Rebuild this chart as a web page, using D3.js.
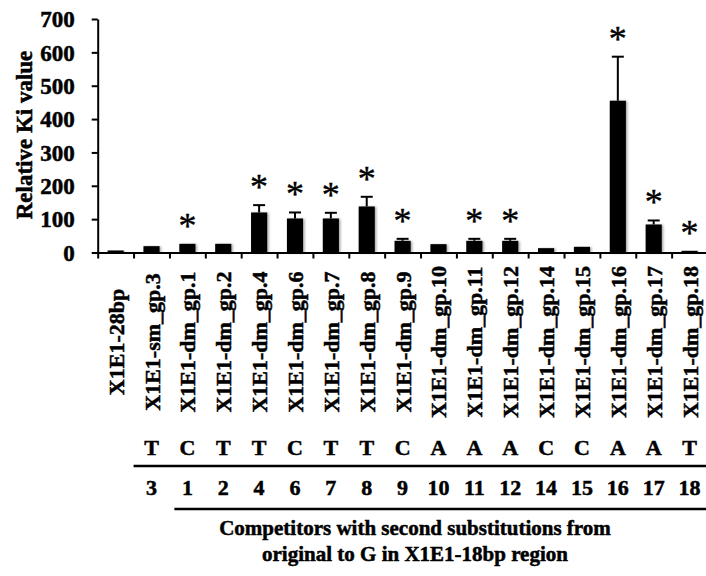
<!DOCTYPE html>
<html>
<head>
<meta charset="utf-8">
<script src="https://cdn.jsdelivr.net/npm/d3@7"></script>
<style>
  html, body { margin: 0; padding: 0; background: #fff; }
  svg { display: block; }
  text { font-family: "Liberation Serif", "Times New Roman", serif; font-weight: bold; fill: #000; stroke: #000; stroke-width: 0.5px; }
</style>
</head>
<body>
<svg id="chart" width="706" height="576"></svg>
<script>
// Competitor names (x-axis categories)
const categories = [
  "X1E1-28bp", "X1E1-sm_gp.3", "X1E1-dm_gp.1", "X1E1-dm_gp.2", "X1E1-dm_gp.4",
  "X1E1-dm_gp.6", "X1E1-dm_gp.7", "X1E1-dm_gp.8", "X1E1-dm_gp.9", "X1E1-dm_gp.10",
  "X1E1-dm_gp.11", "X1E1-dm_gp.12", "X1E1-dm_gp.14", "X1E1-dm_gp.15", "X1E1-dm_gp.16",
  "X1E1-dm_gp.17", "X1E1-dm_gp.18"
];
// Original base at the substituted position, and its position number
const originalBases = ["", "T", "C", "T", "T", "C", "T", "T", "C", "A", "A", "A", "C", "C", "A", "A", "T"];
const positions = ["", "3", "1", "2", "4", "6", "7", "8", "9", "10", "11", "12", "14", "15", "16", "17", "18"];
// Relative Ki values and their error (SD)
const kiValues = [6, 19, 26, 26, 120, 102, 102, 138, 35, 25, 35, 35, 13, 17, 455, 84, 5];
const kiErrors = [0, 0, 0, 0, 22, 18, 17, 29, 6, 0, 6, 6, 0, 0, 132, 12, 0];
// Significance marks
const significant = [false, false, true, false, true, true, true, true, true, false, true, true, false, false, true, true, true];
// Y-axis ticks
const yTicks = [0, 100, 200, 300, 400, 500, 600, 700];

const svg = d3.select("#chart");
const n = categories.length;

const plotLeft = 97.7, plotRight = 707.5, plotTop = 19, plotBottom = 252.5;

const x = d3.scaleBand()
  .domain(categories)
  .range([plotLeft, plotRight])
  .paddingInner(0.55)
  .paddingOuter(0.275);
const step = x.step();
const cx = d => x(d) + x.bandwidth() / 2;

const y = d3.scaleLinear().domain([0, 700]).range([plotBottom, plotTop]);

// Soft shadow used by the bars
const defs = svg.append("defs");
const f = defs.append("filter").attr("id", "shadow")
  .attr("x", "-30%").attr("y", "-10%").attr("width", "160%").attr("height", "130%");
f.append("feDropShadow").attr("dx", 1.5).attr("dy", 0.5)
  .attr("stdDeviation", 1.2).attr("flood-color", "#000").attr("flood-opacity", 0.35);

const data = categories.map((c, i) => ({
  name: c, value: kiValues[i], err: kiErrors[i], sig: significant[i],
  base: originalBases[i], pos: positions[i]
}));

// Bars
svg.append("g").selectAll("rect").data(data).join("rect")
  .attr("x", d => x(d.name))
  .attr("width", x.bandwidth())
  .attr("y", d => y(d.value))
  .attr("height", d => y(0) - y(d.value))
  .attr("fill", "#000")
  .attr("filter", "url(#shadow)");

// Error bars (upper only)
const eb = svg.append("g").attr("stroke", "#000").attr("stroke-width", 2);
data.filter(d => d.err > 0).forEach(d => {
  eb.append("line").attr("x1", cx(d.name)).attr("x2", cx(d.name))
    .attr("y1", y(d.value)).attr("y2", y(d.value + d.err));
  eb.append("line").attr("x1", cx(d.name) - 6).attr("x2", cx(d.name) + 6)
    .attr("y1", y(d.value + d.err)).attr("y2", y(d.value + d.err));
});

// Asterisks above significant bars
const starSize = 36;
svg.append("g").selectAll("text").data(data.filter(d => d.sig)).join("text")
  .attr("x", d => cx(d.name))
  .attr("y", d => y(d.value + d.err) - 24 + starSize * 0.5)
  .attr("text-anchor", "middle")
  .style("font-weight", "normal")
  .style("stroke-width", "0.4px")
  .style("font-size", starSize + "px")
  .text("*");

// Y axis
const yAxis = svg.append("g")
  .attr("transform", `translate(${plotLeft},0)`)
  .call(d3.axisLeft(y).tickValues(yTicks).tickSize(6).tickSizeOuter(0).tickPadding(17));
yAxis.select(".domain").attr("stroke-width", 2);
yAxis.selectAll(".tick line").attr("stroke-width", 2);
yAxis.selectAll(".tick text")
  .style("font-family", "'Liberation Serif', serif")
  .style("font-weight", "bold")
  .style("font-size", "23px")
  .attr("dy", "0.34em");

// X axis: ticks at category boundaries
const xEdges = d3.scaleLinear().domain([0, n]).range([plotLeft, plotLeft + n * step]);
const xAxis = svg.append("g")
  .attr("transform", `translate(0,${plotBottom})`)
  .call(d3.axisBottom(xEdges).tickValues(d3.range(0, n + 1)).tickFormat("").tickSize(6).tickSizeOuter(0));
xAxis.select(".domain").attr("stroke-width", 2);
xAxis.selectAll(".tick line").attr("stroke-width", 2);

// Rotated category labels
svg.append("g").selectAll("text").data(data).join("text")
  .attr("transform", d => `translate(${cx(d.name) + 8},342) rotate(-90)`)
  .attr("text-anchor", "middle")
  .style("font-size", "22px")
  .text(d => d.name);

// Original base row
svg.append("g").selectAll("text").data(data.filter(d => d.base)).join("text")
  .attr("x", d => cx(d.name)).attr("y", 455)
  .attr("text-anchor", "middle")
  .style("font-size", "22px")
  .text(d => d.base);

// Position row
svg.append("g").selectAll("text").data(data.filter(d => d.pos)).join("text")
  .attr("x", d => cx(d.name)).attr("y", 495)
  .attr("text-anchor", "middle")
  .style("font-size", "22px")
  .text(d => d.pos);

// Bracket lines
svg.append("line")
  .attr("x1", x(categories[1]) - (step - x.bandwidth()) / 2).attr("x2", 706)
  .attr("y1", 466).attr("y2", 466)
  .attr("stroke", "#000").attr("stroke-width", 2.5);
svg.append("line")
  .attr("x1", cx(categories[2]) - 13).attr("x2", 706)
  .attr("y1", 509).attr("y2", 509)
  .attr("stroke", "#000").attr("stroke-width", 2.5);

// Group caption
const cap = svg.append("text").attr("text-anchor", "middle").style("font-size", "21px");
cap.append("tspan").attr("x", 415).attr("y", 535).text("Competitors with second substitutions from");
cap.append("tspan").attr("x", 415).attr("y", 561).text("original to G in X1E1-18bp region");

// Y-axis title
svg.append("text")
  .attr("transform", "translate(32,135) rotate(-90)")
  .attr("text-anchor", "middle")
  .style("font-size", "23px")
  .text("Relative Ki value");
</script>
</body>
</html>
